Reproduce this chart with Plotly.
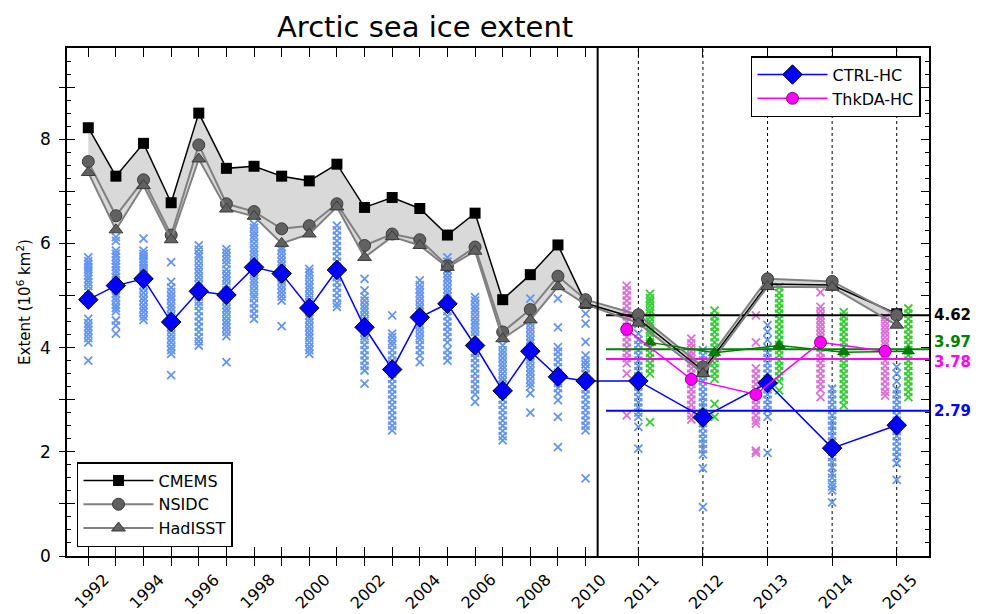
import plotly.graph_objects as go

# ---------------- data ----------------
years_obs = list(range(1992, 2016))
cmems = [8.22, 7.29, 7.92, 6.78, 8.50, 7.44, 7.48, 7.29, 7.20, 7.52, 6.69, 6.88, 6.67, 6.16,
         6.58, 4.92, 5.40, 5.97, 4.85, 4.55, 3.56, 5.22, 5.20, 4.65]
nsidc = [7.57, 6.53, 7.22, 6.16, 7.89, 6.76, 6.61, 6.28, 6.34, 6.76, 5.96, 6.18, 6.07, 5.57,
         5.93, 4.30, 4.73, 5.37, 4.92, 4.63, 3.63, 5.32, 5.27, 4.62]
hadisst = [7.36, 6.26, 7.11, 6.07, 7.62, 6.66, 6.52, 6.00, 6.18, 6.70, 5.73, 6.13, 5.96, 5.54,
           5.85, 4.17, 4.53, 5.17, 4.83, 4.47, 3.50, 5.17, 5.16, 4.43]
ctrl = [4.92, 5.19, 5.32, 4.49, 5.08, 5.01, 5.54, 5.42, 4.76, 5.49, 4.39, 3.58, 4.58, 4.84,
        4.04, 3.17, 3.93, 3.44, 3.36, 3.36, 2.66, 3.32, 2.07, 2.51]

years_hc = [2011, 2012, 2013, 2014, 2015]
thkda = [4.35, 3.39, 3.10, 4.10, 3.93]
green_hc = [4.10, 3.90, 4.04, 3.91, 3.93]

mean_labels = ["4.62", "3.97", "3.78", "2.79"]
mean_values = [4.62, 3.97, 3.78, 2.79]

tick_years = list(range(1992, 2016))
tick_labels = [str(y) if (y >= 2011 or y % 2 == 0) else "" for y in tick_years]
y_label_vals = [0, 2, 4, 6, 8]

ctrl_ens = {
    1992: [5.73, 5.66, 5.60, 5.55, 5.50, 5.45, 5.38, 5.32, 5.25, 5.18, 5.10, 4.98, 4.55, 4.47, 4.40, 4.33, 4.26, 4.18, 4.10, 3.75],
    1993: [6.12, 6.05, 5.86, 5.80, 5.74, 5.67, 5.60, 5.55, 5.48, 5.42, 5.35, 5.27, 5.20, 5.12, 5.04, 4.97, 4.90, 4.82, 4.76, 4.70, 4.52, 4.42, 4.27],
    1994: [6.09, 5.86, 5.80, 5.75, 5.70, 5.64, 5.58, 5.53, 5.48, 5.42, 5.36, 5.28, 5.20, 5.13, 5.05, 4.97, 4.90, 4.82, 4.75, 4.68, 4.60, 4.53],
    1995: [5.64, 5.26, 5.15, 5.07, 4.99, 4.92, 4.84, 4.77, 4.70, 4.62, 4.55, 4.47, 4.40, 4.33, 4.25, 4.17, 4.10, 4.02, 3.95, 3.88, 3.47],
    1996: [5.96, 5.88, 5.80, 5.74, 5.66, 5.58, 5.50, 5.43, 5.35, 5.27, 5.20, 5.12, 4.98, 4.88, 4.80, 4.70, 4.60, 4.50, 4.40, 4.30, 4.20, 4.12, 4.04],
    1997: [5.89, 5.82, 5.75, 5.68, 5.60, 5.50, 5.42, 5.35, 5.28, 5.20, 5.10, 5.00, 4.90, 4.82, 4.75, 4.68, 4.60, 4.52, 4.45, 4.38, 4.30, 4.22, 3.72],
    1998: [6.37, 6.30, 6.22, 6.15, 6.08, 6.00, 5.92, 5.85, 5.78, 5.70, 5.62, 5.55, 5.48, 5.40, 5.32, 5.25, 5.18, 5.10, 5.02, 4.95, 4.85, 4.75, 4.65, 4.55],
    1999: [5.93, 5.87, 5.80, 5.72, 5.65, 5.58, 5.50, 5.42, 5.35, 5.28, 5.20, 5.12, 5.05, 4.98, 4.90, 4.41],
    2000: [5.51, 5.45, 5.38, 5.30, 5.22, 5.15, 5.08, 5.00, 4.92, 4.85, 4.78, 4.70, 4.62, 4.55, 4.48, 4.40, 4.32, 4.25, 4.18, 4.10, 4.02, 3.95, 3.88],
    2001: [6.34, 6.25, 6.15, 6.05, 5.95, 5.85, 5.75, 5.65, 5.55, 5.45, 5.35, 5.25, 5.15, 5.05, 4.95, 4.85, 4.78],
    2002: [5.32, 5.10, 4.98, 4.90, 4.82, 4.75, 4.68, 4.60, 4.52, 4.45, 4.38, 4.30, 4.22, 4.15, 4.05, 3.95, 3.85, 3.75, 3.65, 3.56, 3.31],
    2003: [4.62, 4.27, 4.20, 4.12, 4.05, 3.95, 3.85, 3.75, 3.68, 3.60, 3.50, 3.40, 3.30, 3.20, 3.10, 3.00, 2.90, 2.80, 2.70, 2.60, 2.50, 2.41],
    2004: [5.29, 5.20, 5.12, 5.05, 4.98, 4.90, 4.82, 4.75, 4.68, 4.60, 4.52, 4.45, 4.38, 4.30, 4.22, 4.15, 4.05, 3.95, 3.85, 3.72],
    2005: [5.73, 5.65, 5.58, 5.50, 5.42, 5.35, 5.28, 5.20, 5.12, 5.05, 4.98, 4.90, 4.80, 4.70, 4.60, 4.50, 4.40, 4.30, 4.20, 4.10, 3.95, 3.85, 3.75],
    2006: [4.97, 4.90, 4.82, 4.75, 4.68, 4.60, 4.52, 4.45, 4.38, 4.30, 4.22, 4.10, 4.00, 3.90, 3.80, 3.70, 3.60, 3.50, 3.40, 3.30, 3.20, 3.10, 2.96],
    2007: [4.04, 3.95, 3.88, 3.80, 3.72, 3.65, 3.58, 3.50, 3.42, 3.35, 3.28, 3.20, 3.10, 3.00, 2.90, 2.80, 2.70, 2.60, 2.50, 2.40, 2.30, 2.22],
    2008: [4.94, 4.46, 4.38, 4.30, 4.22, 4.15, 4.08, 4.00, 3.92, 3.85, 3.78, 3.70, 3.62, 3.55, 3.48, 3.40, 3.32, 3.25, 3.12, 2.75],
    2009: [4.94, 4.39, 4.01, 3.92, 3.82, 3.72, 3.62, 3.52, 3.42, 3.32, 3.22, 3.12, 2.99, 2.67, 2.09],
    2010: [4.65, 4.46, 4.11, 3.85, 3.75, 3.68, 3.60, 3.50, 3.40, 3.30, 3.20, 3.10, 3.00, 2.90, 2.80, 2.70, 2.60, 2.50, 2.41, 1.49],
    2011: [4.45, 4.27, 4.15, 4.05, 3.95, 3.85, 3.75, 3.65, 3.55, 3.45, 3.35, 3.25, 3.15, 3.05, 2.95, 2.85, 2.75, 2.67, 2.48, 2.06],
    2012: [3.95, 3.85, 3.75, 3.65, 3.55, 3.45, 3.35, 3.25, 3.15, 3.05, 2.95, 2.85, 2.75, 2.65, 2.55, 2.45, 2.35, 2.25, 2.15, 2.05, 1.95, 1.68, 0.94],
    2013: [4.43, 4.30, 4.15, 4.00, 3.90, 3.80, 3.70, 3.60, 3.50, 3.40, 3.30, 3.20, 3.10, 3.00, 2.90, 2.80, 2.67, 1.98],
    2014: [3.21, 3.10, 3.00, 2.90, 2.80, 2.70, 2.60, 2.50, 2.40, 2.30, 2.20, 2.10, 2.00, 1.90, 1.80, 1.70, 1.58, 1.50, 1.40, 1.33, 1.26, 1.03],
    2015: [3.63, 3.50, 3.35, 3.20, 3.10, 3.00, 2.90, 2.80, 2.70, 2.60, 2.50, 2.40, 2.30, 2.20, 2.10, 2.00, 1.90, 1.78, 1.46],
}
thkda_ens = {
    2011: [5.19, 5.10, 5.00, 4.90, 4.80, 4.70, 4.60, 4.50, 4.40, 4.30, 4.20, 4.10, 4.00, 3.90, 3.80, 3.70, 3.50, 2.70],
    2012: [4.17, 4.08, 4.00, 3.92, 3.85, 3.78, 3.70, 3.60, 3.50, 3.40, 3.30, 3.20, 3.10, 3.00, 2.90, 2.80, 2.70, 2.62],
    2013: [4.62, 4.10, 3.60, 3.50, 3.40, 3.30, 3.20, 3.10, 3.00, 2.90, 2.80, 2.70, 2.60, 2.54, 2.02, 1.98],
    2014: [5.06, 4.78, 4.70, 4.62, 4.55, 4.48, 4.40, 4.32, 4.25, 4.18, 4.10, 4.00, 3.90, 3.80, 3.70, 3.60, 3.50, 3.40, 3.30, 3.20, 3.05],
    2015: [4.58, 4.50, 4.42, 4.35, 4.28, 4.20, 4.12, 4.05, 3.95, 3.85, 3.75, 3.65, 3.55, 3.45, 3.35, 3.25, 3.15, 3.08],
}
green_ens = {
    2011: [5.03, 4.95, 4.88, 4.80, 4.72, 4.65, 4.58, 4.50, 4.42, 4.35, 4.28, 4.20, 4.10, 4.00, 3.90, 3.80, 3.70, 3.60, 3.50, 2.57],
    2012: [4.71, 4.60, 4.50, 4.40, 4.30, 4.20, 4.10, 4.00, 3.90, 3.80, 3.70, 3.60, 3.50, 3.40, 2.92, 2.67],
    2013: [5.16, 5.05, 4.95, 4.85, 4.75, 4.65, 4.55, 4.45, 4.35, 4.25, 4.15, 4.05, 3.95, 3.85, 3.75, 3.65, 3.55, 3.45, 3.35, 3.18],
    2014: [4.68, 4.60, 4.50, 4.40, 4.30, 4.20, 4.10, 4.00, 3.90, 3.80, 3.70, 3.60, 3.50, 3.40, 3.30, 3.20, 3.10, 3.00, 2.89],
    2015: [4.75, 4.65, 4.55, 4.45, 4.35, 4.25, 4.15, 4.05, 3.95, 3.85, 3.75, 3.65, 3.55, 3.45, 3.35, 3.25, 3.15, 3.05],
}

# ---------------- broken time scale ----------------
BREAK = 2010.32      # hindcast years are stretched beyond this point
STRETCH = 2.338
DIVIDER = 2010.37
OFF = 0.18           # side offset of the two hindcast experiments


def xpos(yr):
    return yr if yr <= BREAK else BREAK + (yr - BREAK) * STRETCH


FONT = "DejaVu Sans"
fig = go.Figure()

# grey envelope between observational products
upper = [max(a, b, c) for a, b, c in zip(cmems, nsidc, hadisst)]
lower = [min(a, b, c) for a, b, c in zip(cmems, nsidc, hadisst)]
xs = [xpos(y) for y in years_obs]
fig.add_trace(go.Scatter(x=xs + xs[::-1], y=upper + lower[::-1], fill="toself",
                         fillcolor="#d9d9d9", line=dict(width=0, color="rgba(0,0,0,0)"),
                         mode="lines", showlegend=False, hoverinfo="skip"))


def ens_trace(ens, offset, color):
    ex, ey = [], []
    for yr, vals in ens.items():
        for v in vals:
            ex.append(xpos(yr + offset))
            ey.append(v)
    return go.Scatter(x=ex, y=ey, mode="markers", showlegend=False, hoverinfo="skip",
                      marker=dict(symbol="x-thin", size=8, color=color,
                                  line=dict(width=1.8, color=color)))


fig.add_trace(ens_trace(ctrl_ens, 0.0, "#6495ED"))
fig.add_trace(ens_trace(thkda_ens, -OFF, "#DA70D6"))
fig.add_trace(ens_trace(green_ens, OFF, "#32CD32"))

# mean lines of hindcast period
mean_colors = ["black", "#008000", "#ff00ff", "#0000ff"]
for v, c in zip(mean_values, mean_colors):
    fig.add_trace(go.Scatter(x=[xpos(2010.5), xpos(2015.5)], y=[v, v], mode="lines",
                             line=dict(color=c, width=2), showlegend=False, hoverinfo="skip"))

# observations
fig.add_trace(go.Scatter(x=xs, y=cmems, name="CMEMS", mode="lines+markers",
                         line=dict(color="black", width=1.5),
                         marker=dict(symbol="square", size=11, color="black")))
fig.add_trace(go.Scatter(x=xs, y=nsidc, name="NSIDC", mode="lines+markers",
                         line=dict(color="#808080", width=2),
                         marker=dict(symbol="circle", size=12, color="#616161",
                                     line=dict(color="#3a3a3a", width=1))))
fig.add_trace(go.Scatter(x=xs, y=hadisst, name="HadISST", mode="lines+markers",
                         line=dict(color="#808080", width=2),
                         marker=dict(symbol="triangle-up", size=12, color="#616161",
                                     line=dict(color="#3a3a3a", width=1))))

# hindcasts
fig.add_trace(go.Scatter(x=[xpos(y + OFF) for y in years_hc], y=green_hc, mode="lines+markers",
                         line=dict(color="#008000", width=1.5), showlegend=False,
                         marker=dict(symbol="triangle-up", size=11, color="#008000",
                                     line=dict(color="#004d00", width=0.5))))
fig.add_trace(go.Scatter(x=xs, y=ctrl, name="CTRL-HC", mode="lines+markers", legend="legend2",
                         line=dict(color="#0000ff", width=1.5),
                         marker=dict(symbol="diamond", size=15, color="#0000ff",
                                     line=dict(color="black", width=1))))
fig.add_trace(go.Scatter(x=[xpos(y - OFF) for y in years_hc], y=thkda, name="ThkDA-HC",
                         mode="lines+markers", legend="legend2",
                         line=dict(color="#ff00ff", width=1.5),
                         marker=dict(symbol="circle", size=12, color="#ff00ff",
                                     line=dict(color="#5a005a", width=0.8))))

# dummy trace for the overlay tick axes
fig.add_trace(go.Scatter(x=[None], y=[None], xaxis="x2", yaxis="y2", showlegend=False,
                         hoverinfo="skip"))

# vertical lines
shapes = [dict(type="line", xref="x", yref="paper", x0=xpos(y), x1=xpos(y), y0=0, y1=1,
               line=dict(color="black", width=1, dash="dot"), layer="below") for y in years_hc]
shapes.append(dict(type="line", xref="x", yref="paper", x0=xpos(DIVIDER), x1=xpos(DIVIDER),
                   y0=0, y1=1, line=dict(color="black", width=2)))

annotations = []
# mean labels
label_shift = [0, 7, -3, 0]
for lab, v, c, s in zip(mean_labels, mean_values, mean_colors, label_shift):
    annotations.append(dict(x=1.004, xref="paper", y=v, yref="y", text="<b>" + lab + "</b>",
                            showarrow=False, xanchor="left", yanchor="middle", yshift=s,
                            font=dict(family=FONT, size=15, color=c)))
# y-axis title
annotations.append(dict(x=-0.05, xref="paper", y=0.5, yref="paper",
                        text="Extent (10<sup>6</sup> km<sup>2</sup>)", showarrow=False,
                        textangle=-90, xanchor="center", yanchor="middle",
                        font=dict(family=FONT, size=15, color="black")))
# rotated x tick labels, centred under the ticks
for yr, lab in zip(tick_years, tick_labels):
    if lab:
        annotations.append(dict(x=xpos(yr), xref="x", y=0, yref="paper", text=lab,
                                showarrow=False, textangle=-45, xanchor="center",
                                yanchor="middle", xshift=3, yshift=-35,
                                font=dict(family=FONT, size=16, color="black")))

tickvals = [xpos(y) for y in tick_years]
xrange = [1991.23, 2022.43]
yrange = [0, 9.75]
ymaj = list(range(0, 10))
yminor = [i * 0.25 for i in range(0, 40)]

fig.update_layout(
    width=970, height=606,
    margin=dict(l=59, r=49, t=40, b=58, autoexpand=False),
    plot_bgcolor="white", paper_bgcolor="white",
    font=dict(family=FONT, color="black"),
    title=dict(text="Arctic sea ice extent", x=0.43, xanchor="center", y=0.9686, yanchor="middle",
               pad=dict(t=0, b=0), font=dict(family=FONT, size=29, color="black")),
    xaxis=dict(range=xrange, tickmode="array", tickvals=tickvals, showticklabels=False,
               ticks="outside", ticklen=8, tickwidth=1, tickcolor="black",
               showline=True, linecolor="black", linewidth=1.5,
               mirror=True, showgrid=False, zeroline=False),
    xaxis2=dict(range=xrange, overlaying="x", anchor="y", side="bottom", tickmode="array",
                tickvals=tickvals, ticks="inside", ticklen=9, tickwidth=1, tickcolor="black",
                showticklabels=False, mirror="ticks", showline=False, showgrid=False,
                zeroline=False),
    yaxis=dict(range=yrange, tickmode="array", tickvals=y_label_vals,
               ticks="outside", ticklen=6, tickwidth=1, tickcolor="black",
               minor=dict(tickmode="array", tickvals=ymaj, ticks="outside", ticklen=6,
                          tickwidth=1, tickcolor="black"),
               ticklabelstandoff=5,
               tickfont=dict(size=17), showline=True, linecolor="black", linewidth=1.5,
               mirror=True, showgrid=False, zeroline=False),
    yaxis2=dict(range=yrange, overlaying="y", anchor="x", side="left", tickmode="array",
                tickvals=ymaj, ticks="inside", ticklen=8, tickwidth=1, tickcolor="black",
                minor=dict(tickmode="array", tickvals=yminor, ticks="inside", ticklen=4,
                           tickwidth=1, tickcolor="black"),
                showticklabels=False, mirror="ticks", showline=False, showgrid=False,
                zeroline=False),
    legend=dict(x=0.0116, y=0.0177, xanchor="left", yanchor="bottom",
                bgcolor="white", bordercolor="black", borderwidth=1.5,
                font=dict(family=FONT, size=16), itemwidth=70),
    legend2=dict(x=0.9907, y=0.984, xanchor="right", yanchor="top",
                 bgcolor="white", bordercolor="black", borderwidth=1.5,
                 font=dict(family=FONT, size=16), itemwidth=70),
    shapes=shapes,
    annotations=annotations,
    showlegend=True,
)

fig.write_html("out.html")
